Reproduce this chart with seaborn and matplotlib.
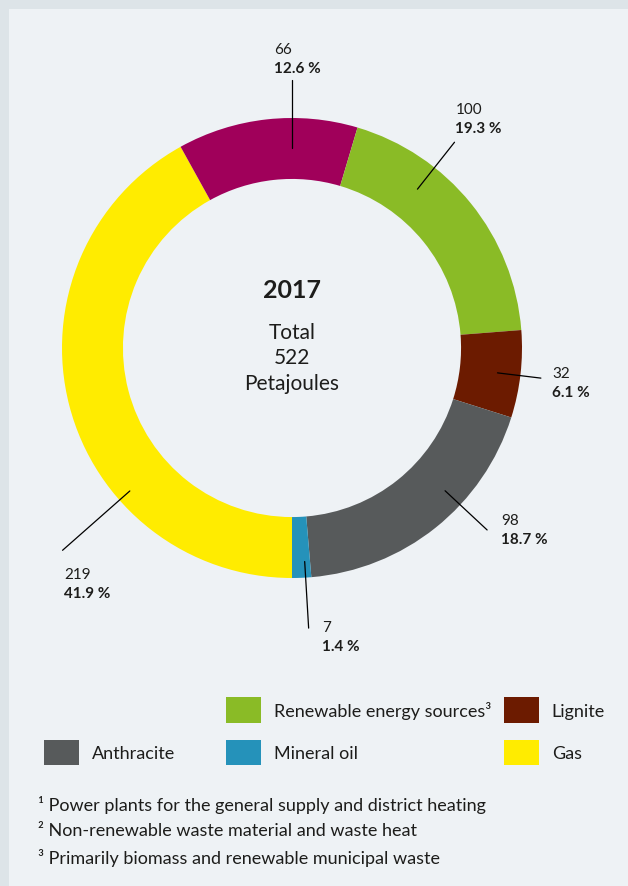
import numpy as np
import matplotlib
matplotlib.use("Agg")
import matplotlib.pyplot as plt
from matplotlib.patches import Patch
import seaborn as sns

# data, clockwise starting at 6 o'clock
categories = ["Gas", "Non-renewable waste²", "Renewable energy sources³",
              "Lignite", "Anthracite", "Mineral oil"]
petajoules = [219, 66, 100, 32, 98, 7]
shares = [41.9, 12.6, 19.3, 6.1, 18.7, 1.4]
year = "2017"
total = 522
colors = ["#ffec00", "#a0005a", "#8abb26", "#6c1b00", "#575a5b", "#2592ba"]

footnotes = ["¹ Power plants for the general supply and district heating",
             "² Non-renewable waste material and waste heat",
             "³ Primarily biomass and renewable municipal waste"]

# label layout: leader angle (deg clockwise from top), r start, r end, text x, text y
label_layout = [
    (228.6, 0.94, 1.33, -0.991, -0.983),
    (0.0, 0.87, 1.165, -0.078, 1.299),
    (38.3, 0.88, 1.14, 0.710, 1.039),
    (96.9, 0.90, 1.09, 1.130, -0.108),
    (133.0, 0.91, 1.16, 0.909, -0.749),
    (176.6, 0.93, 1.22, 0.130, -1.212),
]

sns.set_theme(style="white")
plt.rcParams['font.family'] = ['Lato', 'DejaVu Sans']
txt = "#1d1d1b"

W, H = 628, 887
fig = plt.figure(figsize=(W / 100, H / 100), dpi=100, facecolor="#dde4e8")

bg = fig.add_axes([9 / W, 0, 1 - 9 / W, 1 - 10 / H])
bg.set_facecolor("#eef2f5")
bg.set_xticks([])
bg.set_yticks([])
for s in bg.spines.values():
    s.set_visible(False)

cx, cy, R = 292, 349, 230
ax = fig.add_axes([(cx - R) / W, 1 - (cy + R) / H, 2 * R / W, 2 * R / H])
ax.pie(petajoules, colors=sns.color_palette(colors), startangle=-90,
       counterclock=False, radius=1,
       wedgeprops=dict(width=0.265, linewidth=0))
ax.set_xlim(-1, 1)
ax.set_ylim(-1, 1)
ax.set_aspect("equal")
ax.axis("off")

for v, s, (ang, r0, r1, tx, ty) in zip(petajoules, shares, label_layout):
    a = np.radians(ang)
    ax.plot([r0 * np.sin(a), r1 * np.sin(a)], [r0 * np.cos(a), r1 * np.cos(a)],
            color="black", lw=0.9, clip_on=False)
    ax.text(tx, ty, f"{v}", fontsize=11, color=txt, va="center", ha="left")
    ax.text(tx, ty - 0.082, f"{s:.1f} %", fontsize=11, fontweight="bold",
            color=txt, va="center", ha="left")

ax.text(0, 0.256, year, fontsize=18, fontweight="bold", ha="center", va="center", color=txt)
ax.text(0, 0.070, "Total", fontsize=15, ha="center", va="center", color=txt)
ax.text(0, -0.040, f"{total}", fontsize=15, ha="center", va="center", color=txt)
ax.text(0, -0.152, "Petajoules", fontsize=15, ha="center", va="center", color=txt)

# legend in three separate columns (first cell of first column is empty)
handles = {c: Patch(facecolor=col, edgecolor="none") for c, col in zip(categories, colors)}
handles[" "] = Patch(facecolor="none", edgecolor="none")
columns = [
    (44, [" ", "Anthracite"]),
    (226, ["Renewable energy sources³", "Mineral oil"]),
    (504, ["Lignite", "Gas"]),
]
for x, names in columns:
    fig.legend([handles[n] for n in names], names,
               loc="upper left", bbox_to_anchor=(x / W, 1 - 698 / H),
               frameon=False, fontsize=13, borderpad=0, borderaxespad=0,
               handlelength=1.95, handleheight=1.8, handletextpad=0.7,
               labelspacing=0.95, labelcolor=txt)

for i, line in enumerate(footnotes):
    fig.text(38 / W, 1 - (805 + 26.5 * i) / H, line, fontsize=13, color=txt,
             va="center", ha="left")

fig.savefig("out.png", dpi=100, facecolor=fig.get_facecolor())
